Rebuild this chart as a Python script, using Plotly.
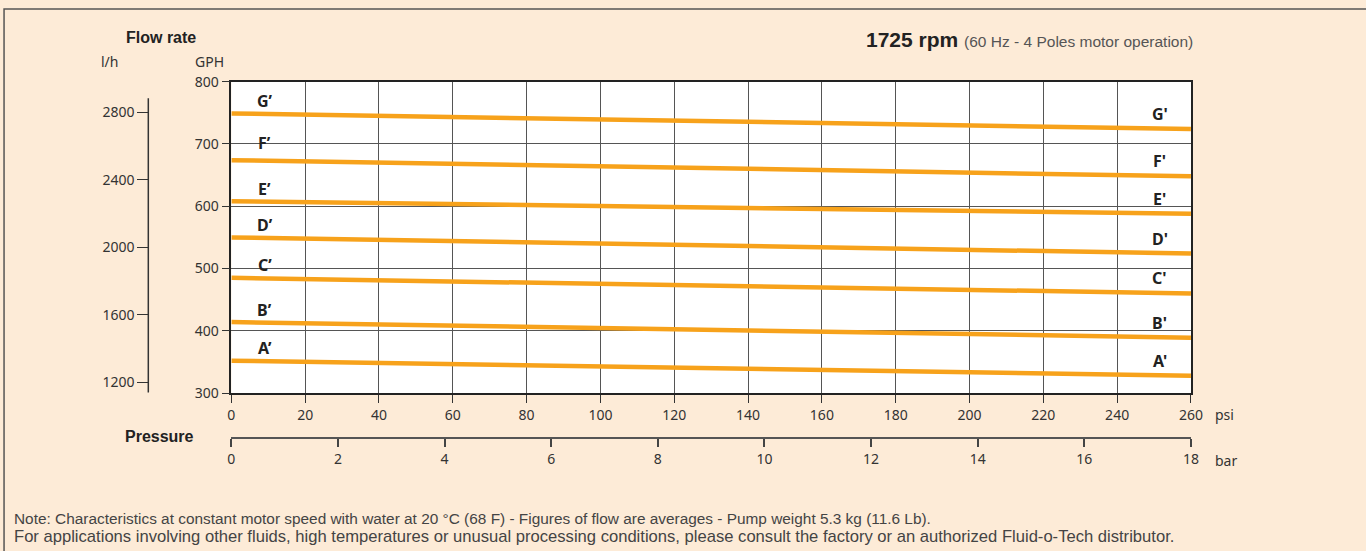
import plotly.graph_objects as go

# ---------------- data ----------------
pressure_psi = [0, 260]
series_names = ["A", "B", "C", "D", "E", "F", "G"]
flow_A = [352, 328]
flow_B = [414, 389]
flow_C = [485, 460]
flow_D = [550, 524]
flow_E = [608, 588]
flow_F = [674, 648]
flow_G = [749, 724]
series_values = [flow_A, flow_B, flow_C, flow_D, flow_E, flow_F, flow_G]

gph_ticks = [300, 400, 500, 600, 700, 800]
lh_ticks = [1200, 1600, 2000, 2400, 2800]
psi_ticks = list(range(0, 261, 20))
bar_ticks = list(range(0, 19, 2))

# ---------------- layout helpers ----------------
W, H = 1366, 551
ML, MR, MT, MB = 20, 20, 20, 20
PW, PH = W - ML - MR, H - MT - MB


def px(X):
    return (X - ML) / PW


def py(Y):
    return (H - MB - Y) / PH


ORANGE = "#F7A21B"
BG = "#FDEBD7"
TXT = "#333333"
FONT = "Noto Sans"

fig = go.Figure()

for name, vals in zip(series_names, series_values):
    fig.add_trace(go.Scatter(
        x=pressure_psi, y=vals, mode="lines", name=name,
        line=dict(color=ORANGE, width=4.5), showlegend=False, hoverinfo="skip"))

# invisible helper traces so the secondary axes exist
fig.add_trace(go.Scatter(x=[bar_ticks[0], bar_ticks[-1]], y=[None, None], xaxis="x2", yaxis="y",
                         mode="lines", showlegend=False, hoverinfo="skip"))
fig.add_trace(go.Scatter(x=[None, None], y=[lh_ticks[0], lh_ticks[-1]], xaxis="x", yaxis="y2",
                         mode="lines", showlegend=False, hoverinfo="skip"))

xdom = [px(232), px(1194.5)]
ann = []

# line labels
for name, vals in zip(series_names, series_values):
    y0 = vals[0] + (vals[-1] - vals[0]) * 9 / 260
    y1 = vals[0] + (vals[-1] - vals[0]) * 251.5 / 260
    ann.append(dict(x=9, y=y0, xref="x", yref="y", text="<b>%s\u2019</b>" % name,
                    showarrow=False, yshift=13 if name != "F" else 18, xanchor="center", yanchor="middle",
                    font=dict(family=FONT, size=16, color="#222")))
    ann.append(dict(x=251.5, y=y1, xref="x", yref="y", text="<b>%s'</b>" % name,
                    showarrow=False, yshift=14.5, xanchor="center", yanchor="middle",
                    font=dict(family=FONT, size=16, color="#222")))


def txt(X, Y, s, size=13, xanchor="center", family=FONT, color=TXT):
    ann.append(dict(x=px(X), y=py(Y), xref="paper", yref="paper", text=s, showarrow=False,
                    xanchor=xanchor, yanchor="middle", font=dict(family=family, size=size, color=color)))


txt(161.7, 36, "<b>Flow rate</b>", size=16, family="Liberation Sans", color="#222")
txt(109.3, 60, "l/h", size=14)
txt(210, 60, "GPH", size=14)
txt(160, 437, "<b>Pressure</b>", size=16, family="Liberation Sans", color="#222")
txt(1217, 415, "psi", size=14, xanchor="left")
txt(1217, 461, "bar", size=14, xanchor="left")
txt(1199, 38, "<b>1725 rpm</b> <span style='font-size:15.5px;color:#555'>(60 Hz - 4 Poles motor operation)</span>",
    size=21, xanchor="right", family="Liberation Sans", color="#222")
txt(12, 519, "Note: Characteristics at constant motor speed with water at 20 °C (68 F) - Figures of flow are averages - Pump weight 5.3 kg (11.6 Lb).",
    size=15.4, xanchor="left", family="Liberation Sans", color="#444")
txt(12, 538, "For applications involving other fluids, high temperatures or unusual processing conditions, please consult the factory or an authorized Fluid-o-Tech distributor.",
    size=16.6, xanchor="left", family="Liberation Sans", color="#444")

tickfont = dict(family=FONT, size=14, color=TXT)

# l/h axis shares the plot height: compute range so ticks fall where they are drawn
y_top_px, y_bot_px = 80, 393.3
lh_per_px = 400 / 68.0
lh_range = [1200 - (y_bot_px - 382.7) * lh_per_px, 2800 + (110.7 - y_top_px) * lh_per_px]

fig.update_layout(
    width=W, height=H,
    margin=dict(l=ML, r=MR, t=MT, b=MB),
    paper_bgcolor=BG, plot_bgcolor="white",
    xaxis=dict(domain=xdom, range=[0, 260], tickvals=psi_ticks, ticks="outside", ticklen=8,
               tickcolor="#333", tickfont=tickfont, showgrid=True, gridcolor="#555", gridwidth=1,
               showline=True, linecolor="#222", linewidth=1.5, mirror=True, zeroline=False,
               anchor="y"),
    yaxis=dict(domain=[py(y_bot_px), py(y_top_px)], range=[300, 800], tickvals=gph_ticks, ticks="outside",
               ticklen=8, tickcolor="#333", tickfont=tickfont, showgrid=True, gridcolor="#555",
               gridwidth=1, showline=True, linecolor="#222", linewidth=1.5, mirror=True,
               zeroline=False, anchor="x"),
    xaxis2=dict(overlaying="x", range=[0, 18], tickvals=bar_ticks, ticks="outside", ticklen=8,
                tickcolor="#444", tickwidth=1.5, tickfont=tickfont, showgrid=False, showline=True,
                linecolor="#555", linewidth=2, zeroline=False, anchor="free", position=py(438.3),
                side="bottom"),
    yaxis2=dict(overlaying="y", range=lh_range, tickvals=lh_ticks,
                ticks="outside", ticklen=11, tickcolor="#333", tickfont=tickfont, showgrid=False,
                showline=False, zeroline=False, anchor="free", position=px(148.7), side="left"),
    annotations=ann,
    shapes=[
        dict(type="rect", xref="paper", yref="paper", x0=px(4), x1=px(1380), y0=py(570), y1=py(7),
             line=dict(color="#555", width=1.5), fillcolor="rgba(0,0,0,0)", layer="below"),
        dict(type="line", xref="paper", yref="paper", x0=px(148.7), x1=px(148.7), y0=py(392.7),
             y1=py(96.7), line=dict(color="#333", width=1.5)),
    ],
)

fig.write_html("out.html", config={"displayModeBar": False},
               post_script="document.body.style.margin='0px';")
